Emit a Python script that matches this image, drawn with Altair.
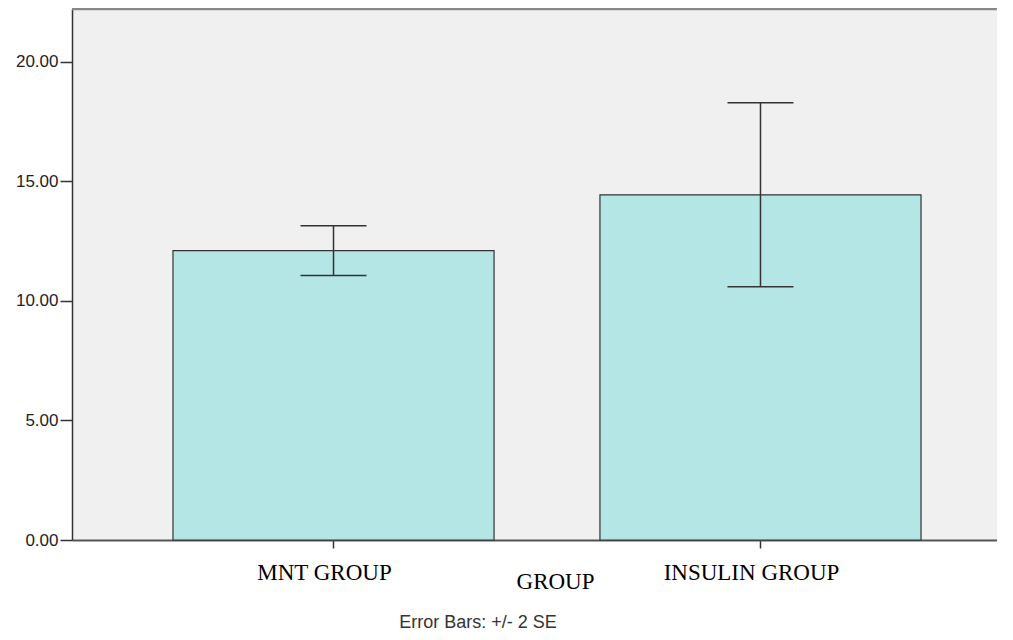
import altair as alt
import pandas as pd

groups = ["MNT GROUP", "INSULIN GROUP"]
means = [12.10, 14.43]
lower = [11.06, 10.59]
upper = [13.14, 18.28]
y_ticks = [0, 5, 10, 15, 20]
note = ["Error Bars: +/- 2 SE"]

df = pd.DataFrame({"group": groups, "mean": means, "lower": lower, "upper": upper})
one = pd.DataFrame({"note": note})

W, H = 925, 531
xscale = alt.Scale(domain=groups, range=[0, 950], paddingInner=0.248, paddingOuter=0.2365)
yscale = alt.Scale(domain=[0, 22.2], nice=False, zero=True)

x_axis = alt.Axis(
    title="GROUP", labelAngle=0, labelFont="Liberation Serif", labelFontSize=23,
    labelColor="black", labelPadding=13, labelOffset=-9, tickSize=8, tickColor="#333",
    tickWidth=1.5, domainColor="#555", domainWidth=2, titleFont="Liberation Serif",
    titleFontSize=23, titleFontWeight="normal", titleColor="black", titleX=483, titleY=48,
    titleAlign="center", titleBaseline="alphabetic", grid=False,
)
y_axis = alt.Axis(
    title=None, values=y_ticks, format=".2f", labelFont="Liberation Sans", labelFontSize=17,
    labelColor="#222", tickSize=12, tickColor="#333", tickWidth=1.5, labelPadding=2,
    domainColor="#333", domainWidth=1.5, grid=False,
)

xenc = alt.X("group:N", scale=xscale, sort=groups, axis=x_axis)
xenc2 = alt.X("group:N", scale=xscale, sort=groups, title="GROUP")

bars = alt.Chart(df).mark_bar(fill="#B4E6E6", stroke="#333", strokeWidth=1.2).encode(
    x=xenc, y=alt.Y("mean:Q", scale=yscale, axis=y_axis)
)
rules = alt.Chart(df).mark_rule(color="#333", strokeWidth=1.5).encode(
    x=xenc2, y=alt.Y("lower:Q", scale=yscale, title=None), y2="upper:Q"
)
cap_lo = alt.Chart(df).mark_tick(size=66, thickness=1.5, color="#333", opacity=1).encode(
    x=xenc2, y=alt.Y("lower:Q", scale=yscale, title=None)
)
cap_hi = alt.Chart(df).mark_tick(size=66, thickness=1.5, color="#333", opacity=1).encode(
    x=xenc2, y=alt.Y("upper:Q", scale=yscale, title=None)
)
top = alt.Chart(one).mark_rule(color="#888", strokeWidth=2.5).encode(
    x=alt.value(0), x2=alt.value(W), y=alt.value(0)
)
note_text = alt.Chart(one).mark_text(
    font="Liberation Sans", fontSize=18, color="#333", align="center", baseline="alphabetic"
).encode(text="note:N", x=alt.value(406), y=alt.value(619))

chart = alt.layer(bars, rules, cap_lo, cap_hi, top, note_text).properties(
    width=W, height=H,
    autosize=alt.AutoSizeParams(type="none"),
    padding={"left": 64, "top": 1, "right": 0, "bottom": 92},
).configure_view(stroke=None, fill="#F0F0F0")

chart.save("out.html", embed_options={"renderer": "svg", "actions": False})
